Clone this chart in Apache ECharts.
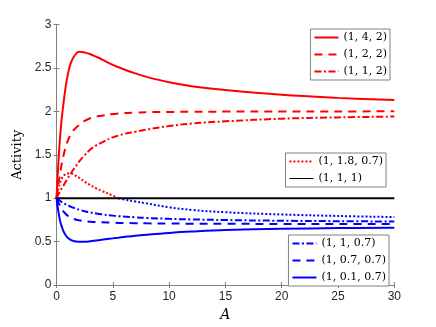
<!DOCTYPE html>
<html><head><meta charset="utf-8">
<script src="https://cdn.jsdelivr.net/npm/echarts@6/dist/echarts.min.js"></script>
<style>html,body{margin:0;padding:0;background:#fff}#c{width:436px;height:327px}</style>
</head><body><div id="c"></div>
<script>
// Shared A (x) sample points
var X = [0,0.1,0.2,0.3,0.4,0.5,0.6,0.8,1,1.25,1.5,1.75,2,2.5,3,3.5,4,5,5.5,6,7,8,10,12,15,20,25,30];
// (1,4,2) red solid
var y142 = [1,1.25,1.48,1.67,1.83,1.96,2.07,2.27,2.42,2.55,2.62,2.665,2.685,2.678,2.658,2.63,2.6,2.535,2.508,2.482,2.437,2.397,2.335,2.29,2.245,2.19,2.155,2.13];
// (1,2,2) red dashed
var y122 = [1,1.09,1.18,1.27,1.35,1.42,1.48,1.58,1.66,1.73,1.78,1.815,1.84,1.89,1.92,1.94,1.95,1.97,1.975,1.98,1.985,1.99,1.993,1.995,1.997,1.998,1.999,2.0];
// (1,1,2) red dash-dot
var y112 = [1,1.025,1.05,1.075,1.1,1.12,1.14,1.185,1.23,1.28,1.33,1.375,1.42,1.495,1.56,1.605,1.64,1.70,1.72,1.74,1.765,1.79,1.83,1.86,1.885,1.915,1.93,1.94];
// (1,1.8,0.7) dotted (red above 1, blue below 1)
var y1807 = [1,1.07,1.13,1.17,1.21,1.235,1.255,1.275,1.285,1.285,1.275,1.255,1.235,1.19,1.15,1.115,1.085,1.03,1.0,0.985,0.962,0.94,0.895,0.865,0.838,0.812,0.795,0.782];
// (1,1,1) black
var X111 = [0,30];
var y111 = [1,1];
// (1,1,0.7) blue dash-dot
var y1107 = [1,0.99,0.98,0.97,0.96,0.953,0.945,0.93,0.918,0.903,0.89,0.878,0.868,0.85,0.836,0.824,0.814,0.799,0.793,0.788,0.78,0.772,0.762,0.755,0.748,0.74,0.735,0.731];
// (1,0.7,0.7) blue dashed
var y10707 = [1,0.97,0.94,0.915,0.89,0.87,0.85,0.82,0.797,0.777,0.762,0.752,0.745,0.735,0.729,0.725,0.722,0.717,0.715,0.714,0.712,0.71,0.708,0.706,0.705,0.703,0.702,0.701];
// (1,0.1,0.7) blue solid
var y10107 = [1,0.9,0.82,0.75,0.7,0.66,0.625,0.575,0.543,0.52,0.507,0.5,0.497,0.498,0.504,0.512,0.52,0.537,0.545,0.553,0.568,0.58,0.6,0.615,0.632,0.647,0.655,0.66];

var xTicks = [0,5,10,15,20,25,30];
var yTicks = [0,0.5,1,1.5,2,2.5,3];

function pairs(xs, ys){ return xs.map(function(x,i){ return [x, ys[i]]; }); }
function pairsIf(xs, ys, f){ var o=[]; xs.forEach(function(x,i){ if(f(x,ys[i])) o.push([x,ys[i]]); }); return o; }

var RED = '#ff0000', BLUE = '#0000ff';
var DASH = [8,6], DOT = [2,2], DASHDOT = [7,2.5,2,2.5];

function mk(name, data, color, type, w){
  return { name: name, type: 'line', data: data, showSymbol: false, symbol: 'none',
    smooth: 0.4, silent: true, animation: false,
    lineStyle: { color: color, width: w || 2, type: type, cap: 'butt' },
    itemStyle: { color: color }, xAxisIndex: 0, yAxisIndex: 0 };
}

var crossX = 5.5;
var series = [
  mk('(1, 4, 2)', pairs(X, y142), RED, 'solid'),
  mk('(1, 2, 2)', pairs(X, y122), RED, DASH),
  mk('(1, 1, 2)', pairs(X, y112), RED, DASHDOT),
  mk('(1, 1.8, 0.7)', pairsIf(X, y1807, function(x){ return x <= crossX; }), RED, DOT),
  mk('blue-dot', pairsIf(X, y1807, function(x){ return x >= crossX; }), BLUE, DOT),
  mk('(1, 1, 1)', pairs(X111, y111), '#000000', 'solid'),
  mk('(1, 1, 0.7)', pairs(X, y1107), BLUE, DASHDOT),
  mk('(1, 0.7, 0.7)', pairs(X, y10707), BLUE, DASH),
  mk('(1, 0.1, 0.7)', pairs(X, y10107), BLUE, 'solid')
];

var AX = '#808080', TXT = '#262626';
function legend(items, right, top){
  return { data: items,
    orient: 'vertical', right: right, top: top, selectedMode: false,
    backgroundColor: '#fff', borderColor: AX, borderWidth: 1, padding: [1, 3, 1, 3],
    itemWidth: 24, itemHeight: 10, itemGap: 2,
    itemStyle: { opacity: 0, borderWidth: 0 },
    textStyle: { fontFamily: 'DejaVu Serif', fontSize: 11, color: '#000', lineHeight: 15 } };
}

var chart = echarts.init(document.getElementById('c'), null, { renderer: 'canvas' });
chart.setOption({
  animation: false,
  backgroundColor: '#fff',
  grid: { left: 56.5, right: 41.7, top: 24.5, bottom: 38.7, containLabel: false },
  xAxis: [
    { type: 'value', min: 0, max: 30, interval: 5, position: 'bottom',
      name: 'A', nameLocation: 'middle', nameGap: 23,
      nameTextStyle: { fontFamily: 'DejaVu Serif', fontStyle: 'italic', fontSize: 14, color: '#000' },
      axisLine: { show: true, lineStyle: { color: AX, width: 1 } },
      axisTick: { show: true, inside: true, length: 3, lineStyle: { color: AX } },
      axisLabel: { color: TXT, fontSize: 12, fontFamily: 'Liberation Sans', margin: 6,
        formatter: function(v){ return xTicks.indexOf(v) >= 0 ? String(v) : ''; } },
      splitLine: { show: false } },
    { type: 'value', min: 0, max: 30, interval: 5, position: 'top',
      axisLine: { show: true, lineStyle: { color: AX, width: 1 } },
      axisTick: { show: true, inside: true, length: 3, lineStyle: { color: AX } },
      axisLabel: { show: false }, splitLine: { show: false } }
  ],
  yAxis: [
    { type: 'value', min: 0, max: 3, interval: 0.5, position: 'left',
      name: 'Activity', nameLocation: 'middle', nameGap: 25,
      nameTextStyle: { fontFamily: 'DejaVu Serif', fontSize: 13, color: '#000' },
      axisLine: { show: true, lineStyle: { color: AX, width: 1 } },
      axisTick: { show: true, inside: true, length: 3, lineStyle: { color: AX } },
      axisLabel: { color: TXT, fontSize: 12, fontFamily: 'Liberation Sans', margin: 5,
        formatter: function(v){ return yTicks.indexOf(v) >= 0 ? String(v) : ''; } },
      splitLine: { show: false } },
    { type: 'value', min: 0, max: 3, interval: 0.5, position: 'right',
      axisLine: { show: true, lineStyle: { color: AX, width: 1 } },
      axisTick: { show: true, inside: true, length: 3, lineStyle: { color: AX } },
      axisLabel: { show: false }, splitLine: { show: false } }
  ],
  legend: [
    legend(['(1, 4, 2)', '(1, 2, 2)', '(1, 1, 2)'], 46, 29),
    legend(['(1, 1.8, 0.7)', { name: '(1, 1, 1)', lineStyle: { width: 1 } }], 50, 153),
    legend(['(1, 1, 0.7)', '(1, 0.7, 0.7)', '(1, 0.1, 0.7)'], 47, 235)
  ],
  series: series
});
</script>
</body></html>
